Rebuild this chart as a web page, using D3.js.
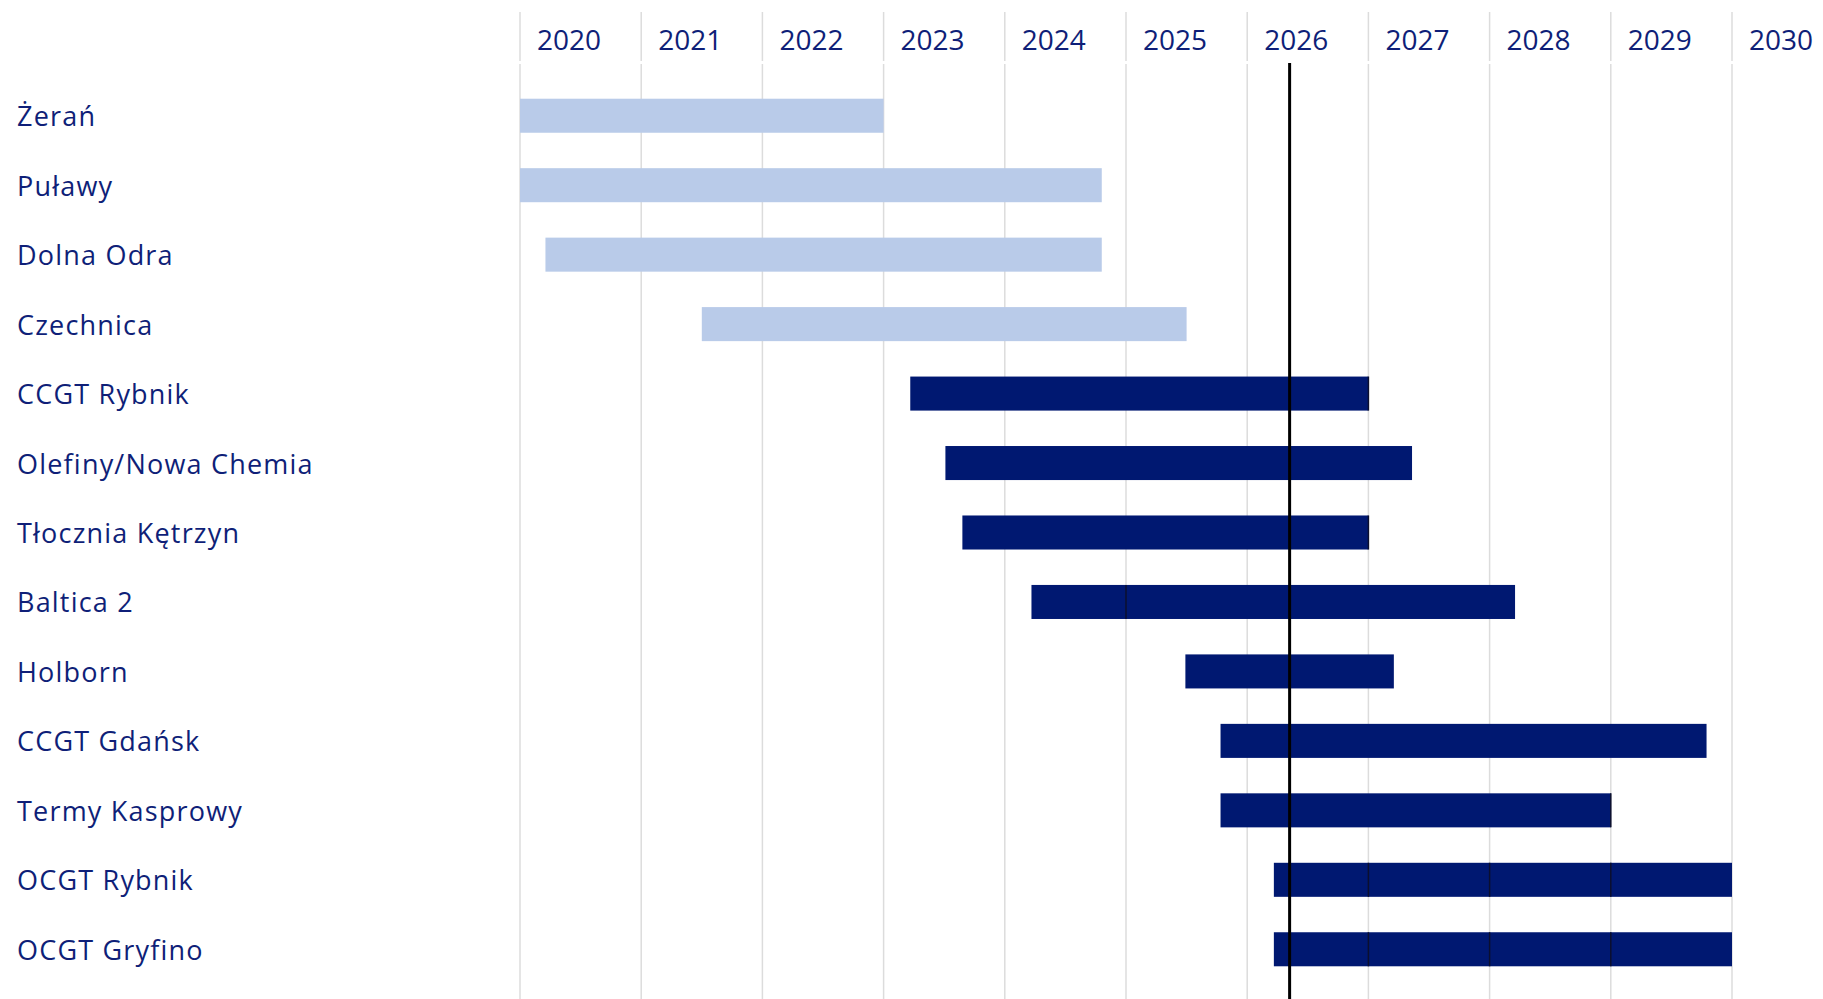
<!DOCTYPE html>
<html>
<head>
<meta charset="utf-8">
<script src="https://cdn.jsdelivr.net/npm/d3@7"></script>
<style>
  body { margin: 0; background: #fff; }
  svg { display: block; }
  .label { font-family: 'Open Sans', sans-serif; fill: #0f1f78; }
</style>
</head>
<body>
<div id="chart"></div>
<script>
// projects, top to bottom
var projects = ['Żerań', 'Puławy', 'Dolna Odra', 'Czechnica', 'CCGT Rybnik',
  'Olefiny/Nowa Chemia', 'Tłocznia Kętrzyn', 'Baltica 2', 'Holborn',
  'CCGT Gdańsk', 'Termy Kasprowy', 'OCGT Rybnik', 'OCGT Gryfino'];
// start / end as fractional years
var starts = [2020.0, 2020.0, 2020.21, 2021.5, 2023.22, 2023.51, 2023.65,
  2024.22, 2025.49, 2025.78, 2025.78, 2026.22, 2026.22];
var ends = [2023.0, 2024.8, 2024.8, 2025.5, 2027.0, 2027.36, 2027.0,
  2028.21, 2027.21, 2029.79, 2029.0, 2030.0, 2030.0];
// finished (light) vs ongoing (dark)
var finished = [true, true, true, true, false, false, false,
  false, false, false, false, false, false];
var years = [2020, 2021, 2022, 2023, 2024, 2025, 2026, 2027, 2028, 2029, 2030];
var today = 2026.35;
// visible segment joins inside the dark bars
var seams = [
  { project: 'CCGT Rybnik', year: 2027 },
  { project: 'Tłocznia Kętrzyn', year: 2027 },
  { project: 'Baltica 2', year: 2025 },
  { project: 'Termy Kasprowy', year: 2029 },
  { project: 'OCGT Rybnik', year: 2027 },
  { project: 'OCGT Rybnik', year: 2028 },
  { project: 'OCGT Rybnik', year: 2029 },
  { project: 'OCGT Gryfino', year: 2027 },
  { project: 'OCGT Gryfino', year: 2028 },
  { project: 'OCGT Gryfino', year: 2029 }
];

var width = 1823;
var height = 999;

var svg = d3.select('#chart').append('svg')
  .attr('width', width)
  .attr('height', height);

var x = d3.scaleLinear().domain([2020, 2030]).range([520, 1732]);
var y = d3.scaleBand().domain(projects).range([81, 984])
  .paddingInner(0.51).paddingOuter(0.255);

var rows = projects.map(function(p, i) {
  return { name: p, start: starts[i], end: ends[i], done: finished[i] };
});

// grid
var gridLayer = svg.append('g');
gridLayer.selectAll('line.top').data(years)
  .enter().append('line')
  .attr('x1', function(d) { return x(d); })
  .attr('x2', function(d) { return x(d); })
  .attr('y1', 12)
  .attr('y2', 61)
  .attr('stroke', '#dcdcdc')
  .attr('stroke-width', 1.5);
gridLayer.selectAll('line.body').data(years)
  .enter().append('line')
  .attr('x1', function(d) { return x(d); })
  .attr('x2', function(d) { return x(d); })
  .attr('y1', 64)
  .attr('y2', height)
  .attr('stroke', '#dcdcdc')
  .attr('stroke-width', 1.5);

// year labels
svg.selectAll('text.year').data(years)
  .enter().append('text')
  .attr('class', 'label')
  .attr('x', function(d) { return x(d) + 17; })
  .attr('y', 39)
  .attr('dominant-baseline', 'central')
  .style('font-size', '28px')
  .text(function(d) { return d; });

// project labels
svg.selectAll('text.project').data(rows)
  .enter().append('text')
  .attr('class', 'label')
  .attr('x', 17)
  .attr('y', function(d) { return y(d.name) + y.bandwidth() / 2; })
  .attr('dominant-baseline', 'central')
  .style('font-size', '27px')
  .style('letter-spacing', '1.2px')
  .text(function(d) { return d.name; });

// bars
svg.append('g').selectAll('rect').data(rows)
  .enter().append('rect')
  .attr('x', function(d) { return x(d.start); })
  .attr('y', function(d) { return y(d.name); })
  .attr('width', function(d) { return x(d.end) - x(d.start); })
  .attr('height', y.bandwidth())
  .attr('fill', function(d) { return d.done ? '#b9cbe9' : '#001871'; });

svg.append('g').selectAll('line').data(seams)
  .enter().append('line')
  .attr('x1', function(d) { return x(d.year); })
  .attr('x2', function(d) { return x(d.year); })
  .attr('y1', function(d) { return y(d.project); })
  .attr('y2', function(d) { return y(d.project) + y.bandwidth(); })
  .attr('stroke', '#0b0f2e')
  .attr('stroke-width', 1.5);

// today marker
svg.append('line')
  .attr('x1', x(today))
  .attr('x2', x(today))
  .attr('y1', 63)
  .attr('y2', height)
  .attr('stroke', '#000')
  .attr('stroke-width', 3);
</script>
</body>
</html>
